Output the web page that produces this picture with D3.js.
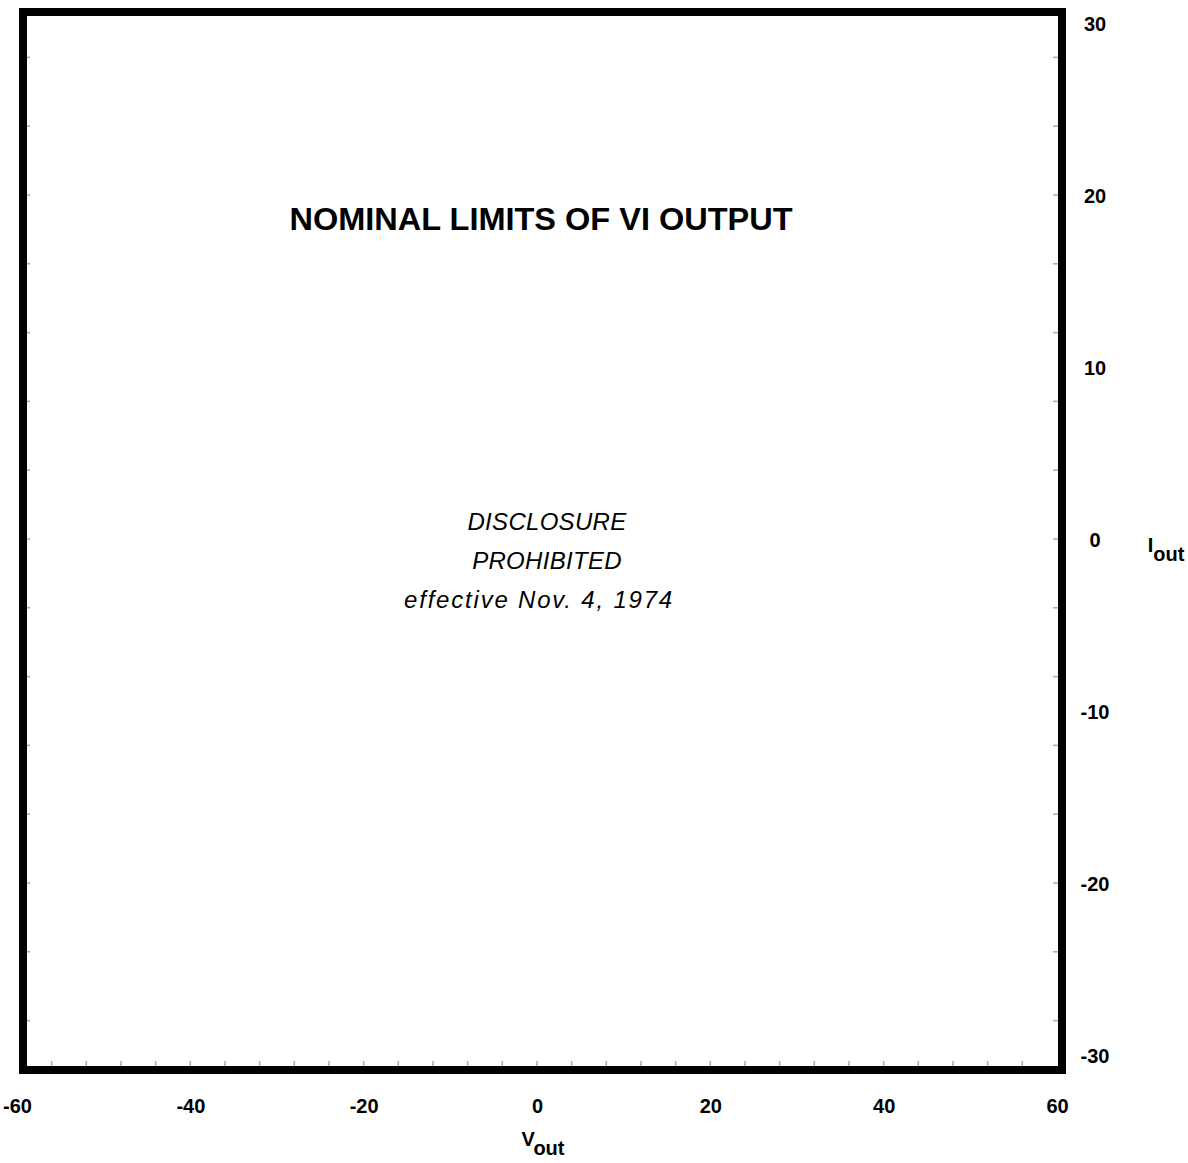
<!DOCTYPE html>
<html>

<head>
    <title>Nominal limits of VI output</title>
    <script src="https://d3js.org/d3.v7.min.js"></script>
    <style>
        body { margin: 0; background: #fff; }
        text { font-family: "Liberation Sans", Arial, sans-serif; fill: #000; }
    </style>
</head>

<body>
    <script>
        // axis ranges and tick labels
        var xDomain = [-60, 60];
        var yDomain = [-30, 30];
        var xTicks = [-60, -40, -20, 0, 20, 40, 60];
        var yTicks = [30, 20, 10, 0, -10, -20, -30];
        var minorX = d3.range(-56, 60, 4);
        var minorY = d3.range(-28, 30, 4);

        var titleText = "NOMINAL LIMITS OF VI OUTPUT";
        var noticeLines = ["DISCLOSURE", "PROHIBITED", "effective Nov. 4, 1974"];

        var width = 1188, height = 1163;

        var svg = d3.select("body").append("svg")
            .attr("width", width)
            .attr("height", height);

        // frame
        var frame = { left: 23, right: 1062, top: 12, bottom: 1070 };

        var x = d3.scaleLinear().domain(xDomain).range([17, 1057]);
        var y = d3.scaleLinear().domain(yDomain).range([1055, 23]);

        // faint minor ticks along the inside of the frame
        var tickColor = "#aaa";
        svg.append("g").selectAll("line").data(minorX).join("line")
            .attr("x1", d => x(d)).attr("x2", d => x(d))
            .attr("y1", frame.bottom - 4).attr("y2", frame.bottom - 9)
            .style("stroke", tickColor).style("stroke-width", 1.5);
        svg.append("g").selectAll("line").data(minorY).join("line")
            .attr("x1", frame.right - 4).attr("x2", frame.right - 9)
            .attr("y1", d => y(d)).attr("y2", d => y(d))
            .style("stroke", tickColor).style("stroke-width", 1.5);
        svg.append("g").selectAll("line").data(minorY).join("line")
            .attr("x1", frame.left + 4).attr("x2", frame.left + 7)
            .attr("y1", d => y(d)).attr("y2", d => y(d))
            .style("stroke", tickColor).style("stroke-width", 1.5);

        svg.append("rect")
            .attr("x", frame.left)
            .attr("y", frame.top)
            .attr("width", frame.right - frame.left)
            .attr("height", frame.bottom - frame.top)
            .style("fill", "none")
            .style("stroke", "#000")
            .style("stroke-width", 8);

        // x axis labels
        var xAxis = d3.axisBottom(x).tickValues(xTicks).tickSize(0).tickPadding(0);
        var gx = svg.append("g")
            .attr("transform", "translate(0,1113)")
            .call(xAxis);
        gx.select(".domain").remove();
        gx.selectAll("text")
            .attr("dy", 0)
            .style("font-size", "20px")
            .style("font-weight", "bold")
            .text(d => d < 0 ? "-" + Math.abs(d) : d);

        // y axis labels (on the right)
        var yAxis = d3.axisRight(y).tickValues(yTicks).tickSize(0).tickPadding(0);
        var gy = svg.append("g")
            .attr("transform", "translate(1095,0)")
            .call(yAxis);
        gy.select(".domain").remove();
        gy.selectAll("text")
            .attr("text-anchor", "middle")
            .attr("dy", "0.35em")
            .style("font-size", "20px")
            .style("font-weight", "bold")
            .text(d => d < 0 ? "-" + Math.abs(d) : d);

        // axis titles with subscripts
        function subLabel(px, py, main, sub) {
            var t = svg.append("text")
                .attr("x", px)
                .attr("y", py)
                .attr("text-anchor", "middle")
                .style("font-size", "20px")
                .style("font-weight", "bold");
            t.append("tspan").text(main);
            t.append("tspan").attr("dy", 9).text(sub);
        }
        subLabel(543, 1146, "V", "out");
        subLabel(1166, 552, "I", "out");

        // title
        svg.append("text")
            .attr("x", 541)
            .attr("y", 230)
            .attr("text-anchor", "middle")
            .attr("textLength", 503)
            .attr("lengthAdjust", "spacingAndGlyphs")
            .style("font-family", "'Liberation Sans Narrow', 'Liberation Sans', Arial, sans-serif")
            .style("font-size", "32px")
            .style("font-weight", "bold")
            .text(titleText);

        // notice
        svg.append("g").selectAll("text").data(noticeLines).join("text")
            .attr("x", (d, i) => i == 2 ? 539 : 547)
            .attr("y", (d, i) => 530 + i * 39)
            .attr("text-anchor", "middle")
            .style("font-size", "24px")
            .style("font-style", "italic")
            .style("letter-spacing", (d, i) => i == 2 ? "1.8px" : "0.3px")
            .text(d => d);
    </script>
</body>

</html>
